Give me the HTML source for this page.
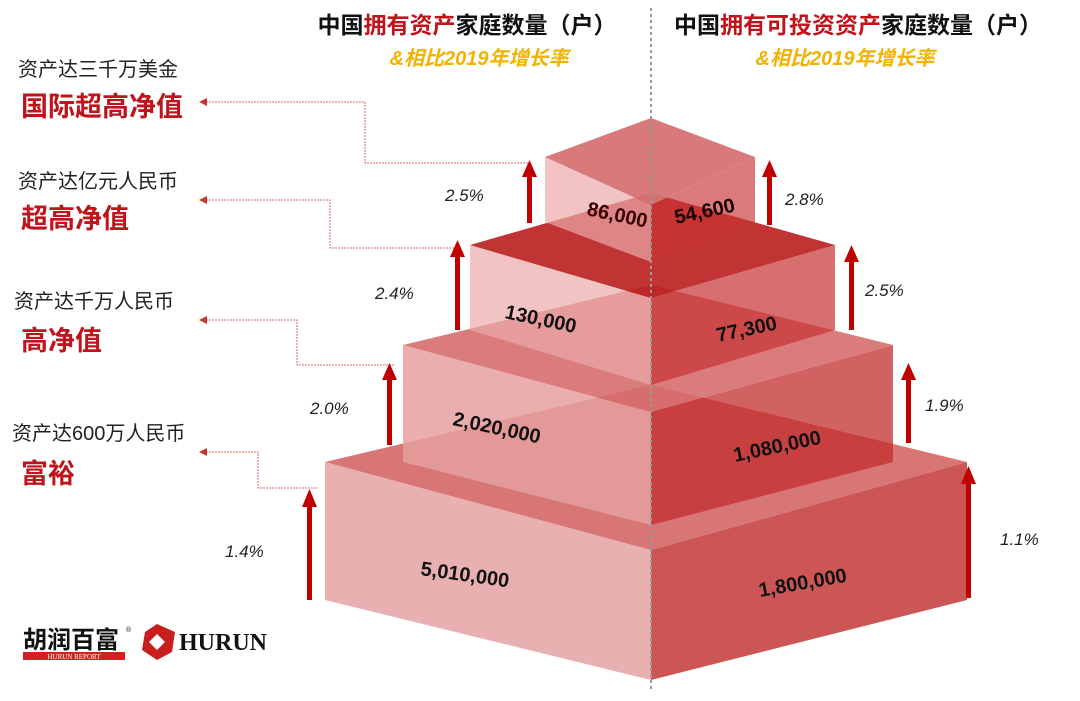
<!DOCTYPE html>
<html><head><meta charset="utf-8"><style>
body{margin:0;width:1080px;height:696px;background:#fff;overflow:hidden;font-family:"Liberation Sans","Noto Sans CJK SC",sans-serif}
</style></head><body>
<svg width="1080" height="696" viewBox="0 0 1080 696" xmlns="http://www.w3.org/2000/svg" font-family="Liberation Sans, Noto Sans CJK SC, sans-serif">
<defs><marker id="la" markerWidth="8" markerHeight="8" refX="1" refY="4" orient="auto"><path d="M8,0 L0,4 L8,8 z" fill="#c0392b"/></marker></defs>
<text x="467" y="33" font-size="23" font-weight="bold" text-anchor="middle" fill="#111">中国<tspan fill="#c0141c">拥有资产</tspan>家庭数量（户）</text>
<text x="479" y="65" font-size="20" font-weight="bold" font-style="italic" text-anchor="middle" fill="#f2b200">&amp;相比2019年增长率</text>
<text x="858" y="33" font-size="23" font-weight="bold" text-anchor="middle" fill="#111">中国<tspan fill="#c0141c">拥有可投资资产</tspan>家庭数量（户）</text>
<text x="845" y="65" font-size="20" font-weight="bold" font-style="italic" text-anchor="middle" fill="#f2b200">&amp;相比2019年增长率</text>
<g font-size="20" fill="#222">
<text x="18" y="76">资产达三千万美金</text>
<text x="18" y="188">资产达亿元人民币</text>
<text x="14" y="308">资产达千万人民币</text>
<text x="12" y="440">资产达600万人民币</text></g>
<g font-size="27" font-weight="bold" fill="#c0141c">
<text x="21" y="116">国际超高净值</text>
<text x="21" y="228">超高净值</text>
<text x="21" y="350">高净值</text>
<text x="21" y="483">富裕</text></g>
<g fill="none" stroke="#d46a6a" stroke-width="1" stroke-dasharray="2,1">
<polyline points="200,102 365,102 365,163 528,163" marker-start="url(#la)"/>
<polyline points="200,200 330,200 330,248 460,248" marker-start="url(#la)"/>
<polyline points="200,320 297,320 297,365 395,365" marker-start="url(#la)"/>
<polyline points="200,452 258,452 258,488 318,488" marker-start="url(#la)"/>
</g>
<polygon points="325,462 651,550 651,680 325,600" fill="#e8b0b0"/>
<polygon points="651,550 967,462 967,600 651,680" fill="#cc5555"/>
<polygon points="325,462 651,385 967,462 651,550" fill="#d87575"/>
<polygon points="403,345 651,412 651,525 403,462" fill="rgba(230,160,160,0.85)"/>
<polygon points="651,412 893,345 893,462 651,525" fill="rgba(195,45,45,0.75)"/>
<polygon points="403,345 651,285 893,345 651,412" fill="rgba(215,110,110,0.9)"/>
<polygon points="470,245 651,298 651,385 470,330" fill="rgba(235,170,170,0.7)"/>
<polygon points="651,298 835,245 835,330 651,385" fill="rgba(200,50,50,0.7)"/>
<polygon points="470,245 651,193 835,245 651,298" fill="rgba(185,30,30,0.9)"/>
<polygon points="545,157 651,205 651,262 545,222" fill="rgba(235,170,170,0.7)"/>
<polygon points="651,205 755,157 755,222 651,262" fill="rgba(200,50,50,0.65)"/>
<polygon points="545,157 651,118 755,157 651,205" fill="rgba(215,115,115,0.95)"/>
<line x1="651" y1="8" x2="651" y2="692" stroke="#999" stroke-width="2" stroke-dasharray="3,3"/>
<g font-size="20" font-weight="bold" fill="#111">
<text x="586" y="215" transform="rotate(12 586 215)" fill="#3a0000">86,000</text>
<text x="676" y="224" transform="rotate(-12 676 224)" fill="#1a0000">54,600</text>
<text x="504" y="318" transform="rotate(12 504 318)">130,000</text>
<text x="718" y="342" transform="rotate(-12 718 342)">77,300</text>
<text x="452" y="425" transform="rotate(12 452 425)">2,020,000</text>
<text x="735" y="462" transform="rotate(-12 735 462)">1,080,000</text>
<text x="420" y="575" transform="rotate(8 420 575)">5,010,000</text>
<text x="760" y="597" transform="rotate(-10 760 597)">1,800,000</text></g>
<g fill="#c00000">
<rect x="527" y="175" width="5" height="48"/><polygon points="522,177 537,177 529.5,160"/>
<rect x="455" y="255" width="5" height="75"/><polygon points="450,257 465,257 457.5,240"/>
<rect x="387" y="378" width="5" height="67"/><polygon points="382,380 397,380 389.5,363"/>
<rect x="307" y="505" width="5" height="95"/><polygon points="302,507 317,507 309.5,489"/>
<rect x="767" y="175" width="5" height="50"/><polygon points="762,177 777,177 769.5,160"/>
<rect x="849" y="260" width="5" height="70"/><polygon points="844,262 859,262 851.5,245"/>
<rect x="906" y="378" width="5" height="65"/><polygon points="901,380 916,380 908.5,363"/>
<rect x="966" y="482" width="5" height="116"/><polygon points="961,484 976,484 968.5,466"/>
</g>
<g font-size="17" font-style="italic" fill="#222">
<text x="445" y="201">2.5%</text><text x="375" y="299">2.4%</text><text x="310" y="414">2.0%</text><text x="225" y="557">1.4%</text>
<text x="785" y="205">2.8%</text><text x="865" y="296">2.5%</text><text x="925" y="411">1.9%</text><text x="1000" y="545">1.1%</text></g>
<text x="23" y="648" font-size="24" font-weight="bold" fill="#111">胡润百富</text>
<text x="126" y="632" font-size="7" fill="#111">®</text>
<rect x="23" y="652" width="102" height="8" fill="#d42020"/>
<text x="74" y="659" font-size="7" fill="#fff" text-anchor="middle" font-family="Liberation Serif, serif">HURUN REPORT</text>
<polygon points="157,624 175,632 172,652 157,660 142,650 145,632" fill="#c81e1e"/>
<polygon points="157,634 165,642 157,650 149,642" fill="#fff"/>
<text x="179" y="650" font-size="24" font-weight="bold" fill="#111" font-family="Liberation Serif, serif">HURUN</text>
</svg>
</body></html>
